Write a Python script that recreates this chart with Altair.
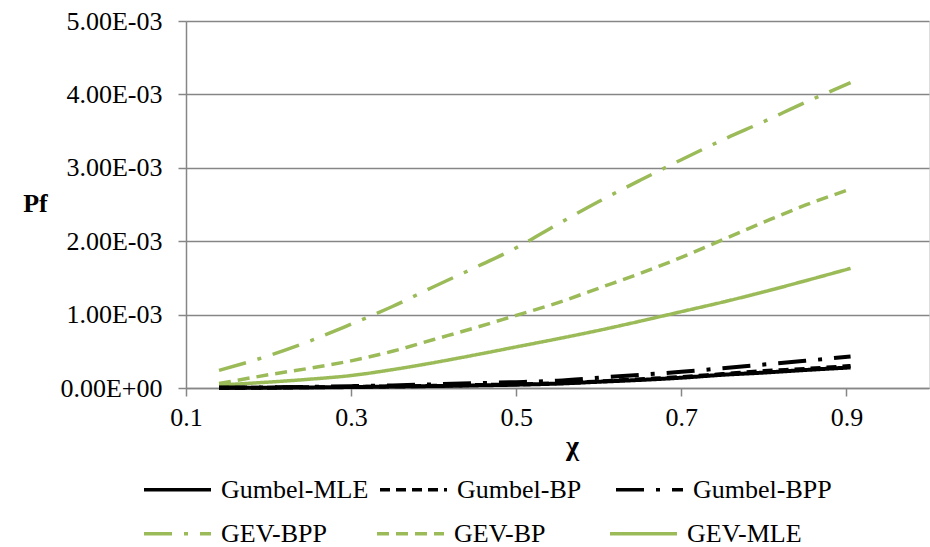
import altair as alt
import pandas as pd

chi = [0.14, 0.2, 0.25, 0.3, 0.35, 0.4, 0.45, 0.5, 0.55, 0.6, 0.65, 0.7, 0.75, 0.8, 0.85, 0.905]

gumbel_mle = [0.002, 0.004, 0.008, 0.013, 0.020, 0.027, 0.035, 0.045, 0.060, 0.085, 0.110, 0.140, 0.180, 0.210, 0.245, 0.280]
gumbel_bp = [0.002, 0.005, 0.010, 0.015, 0.022, 0.030, 0.040, 0.050, 0.065, 0.090, 0.120, 0.150, 0.190, 0.230, 0.260, 0.300]
gumbel_bpp = [0.003, 0.008, 0.015, 0.025, 0.035, 0.050, 0.065, 0.080, 0.100, 0.140, 0.180, 0.220, 0.270, 0.320, 0.370, 0.430]
gev_bpp = [0.24, 0.44, 0.64, 0.87, 1.11, 1.38, 1.64, 1.91, 2.23, 2.54, 2.83, 3.11, 3.38, 3.63, 3.89, 4.16]
gev_bp = [0.06, 0.18, 0.27, 0.37, 0.50, 0.66, 0.82, 0.99, 1.16, 1.36, 1.56, 1.78, 2.02, 2.26, 2.49, 2.71]
gev_mle = [0.04, 0.08, 0.12, 0.17, 0.25, 0.345, 0.45, 0.56, 0.67, 0.785, 0.91, 1.04, 1.17, 1.31, 1.46, 1.63]

gumbel_names = ["Gumbel-MLE", "Gumbel-BP", "Gumbel-BPP"]
gumbel_vals = [gumbel_mle, gumbel_bp, gumbel_bpp]
gumbel_dash = [[1, 0], [10, 6], [28, 12, 4, 12]]

gev_names = ["GEV-BPP", "GEV-BP", "GEV-MLE"]
gev_vals = [gev_bpp, gev_bp, gev_mle]
gev_dash = [[28, 12, 4, 12], [12, 7], [1, 0]]

BLACK = "#000000"
GREEN = "#9BBB59"


def long_table(names, vals):
    rows = []
    for name, vs in zip(names, vals):
        for x, v in zip(chi, vs):
            rows.append({"chi": x, "Pf": v * 1e-3, "series": name})
    return pd.DataFrame(rows)


df_gumbel = long_table(gumbel_names, gumbel_vals)
df_gev = long_table(gev_names, gev_vals)

FONT = "Liberation Serif"


def make_legend(y, col_pad):
    return alt.Legend(
        title=None, orient="none", legendX=-44, legendY=y, columns=3, direction="horizontal",
        gridAlign="all", columnPadding=col_pad,
        symbolType="stroke", symbolSize=4489, symbolStrokeWidth=3.5,
        labelFont=FONT, labelFontSize=26, labelColor="#000000", labelOffset=8,
        labelLimit=400,
    )


x_enc = alt.X("chi:Q",
              scale=alt.Scale(domain=[0.1, 1.0], nice=False, zero=False),
              axis=alt.Axis(values=[0.1, 0.3, 0.5, 0.7, 0.9], format=".1f", grid=False, labelFlush=False,
                            title="χ", titleFont=FONT, titleFontSize=28, titleFontWeight="bold",
                            titleX=386, titleY=58, titleAlign="center", titleBaseline="middle",
                            labelFont=FONT, labelFontSize=26, labelColor="#000000", labelPadding=8,
                            tickSize=8, tickColor="#868686", domainColor="#868686", domainWidth=1.5,
                            tickWidth=1.5))
y_enc = alt.Y("Pf:Q",
              scale=alt.Scale(domain=[0, 0.005], nice=False),
              axis=alt.Axis(values=[0, 0.001, 0.002, 0.003, 0.004, 0.005], labelFlush=False,
                            labelExpr="replace(replace(format(datum.value, '.2e'), 'e-', 'E-0'), 'e+', 'E+0')",
                            title="Pf", titleFont=FONT, titleFontSize=26, titleFontWeight="bold",
                            titleAngle=0, titleX=-151, titleY=182, titleAlign="center", titleBaseline="middle",
                            labelFont=FONT, labelFontSize=26, labelColor="#000000", labelPadding=16,
                            tickSize=8, tickColor="#868686", domainColor="#868686", domainWidth=1.5,
                            tickWidth=1.5, grid=True, gridColor="#868686", gridWidth=1.5))

gev_layer = alt.Chart(df_gev).mark_line(strokeWidth=3.5, interpolate="monotone").encode(
    x=x_enc, y=y_enc,
    color=alt.Color("series:N", scale=alt.Scale(domain=gev_names, range=[GREEN] * 3),
                    legend=make_legend(477, 34)),
    strokeDash=alt.StrokeDash("series:N", scale=alt.Scale(domain=gev_names, range=gev_dash),
                              legend=make_legend(477, 34)),
    detail="series:N",
)

gumbel_layer = alt.Chart(df_gumbel).mark_line(strokeWidth=4, interpolate="monotone").encode(
    x=x_enc, y=y_enc,
    color=alt.Color("series:N", scale=alt.Scale(domain=gumbel_names, range=[BLACK] * 3),
                    legend=make_legend(433, 4)),
    strokeDash=alt.StrokeDash("series:N", scale=alt.Scale(domain=gumbel_names, range=gumbel_dash),
                              legend=make_legend(433, 4)),
    detail="series:N",
)

chart = alt.layer(gev_layer, gumbel_layer).resolve_scale(
    color="independent", strokeDash="independent"
).properties(
    width=743, height=367,
    autosize=alt.AutoSizeParams(type="none"),
    padding={"left": 186, "top": 21, "right": 1, "bottom": 159},
).configure_view(stroke=None).configure(background="white")

chart.save("out.html", embed_options={"renderer": "svg", "actions": False})
